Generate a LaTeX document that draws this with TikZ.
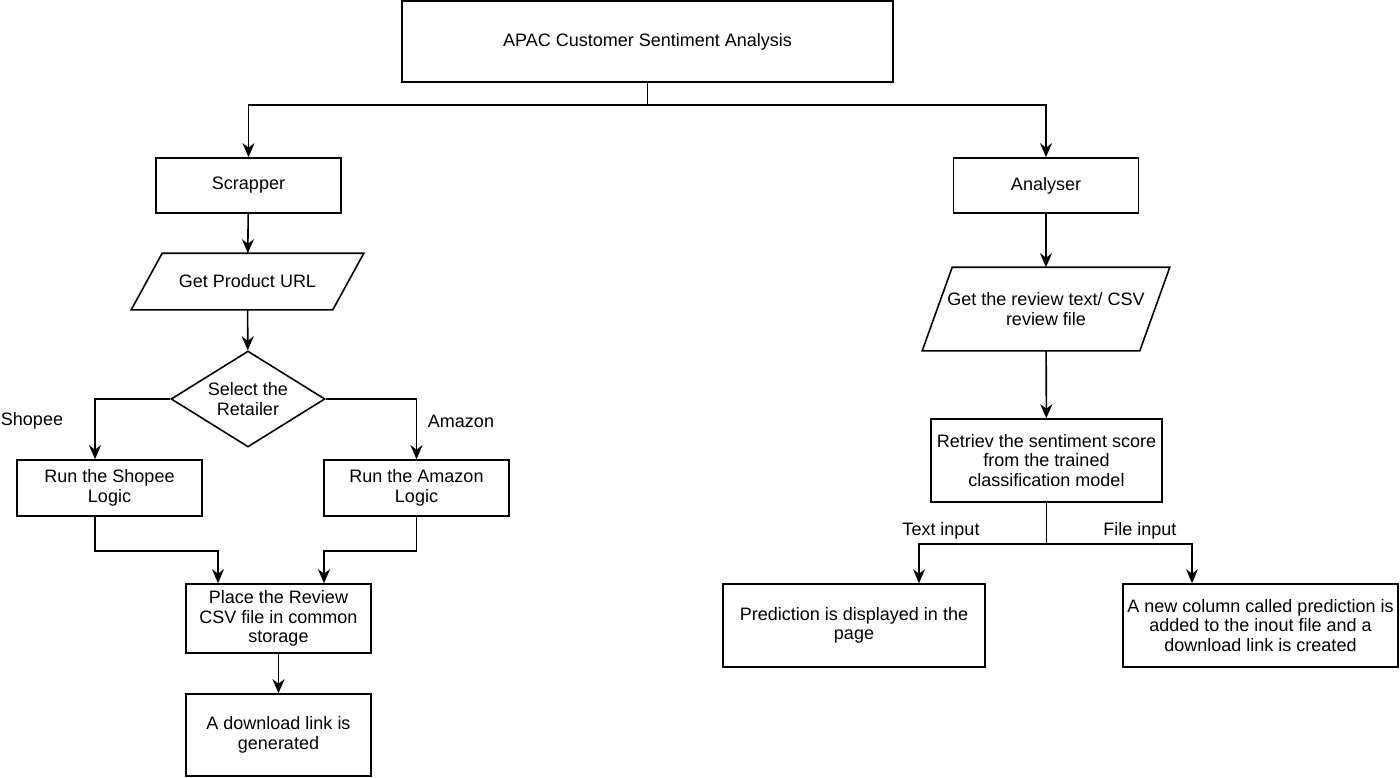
\documentclass[tikz,border=0pt]{standalone}
\usepackage{fontspec}
\setmainfont{Liberation Sans}
\usepackage{tikz}
\usetikzlibrary{shapes.geometric}
\usetikzlibrary{arrows.meta,positioning}

\begin{document}
\begin{tikzpicture}[x=1pt,y=-1pt,->,>={Stealth[length=14pt,width=12pt,inset=4.5pt]},
            line width=1.6pt,
            main node/.style={rectangle,draw,align=center,inner sep=2pt,
            font=\fontsize{18}{19.5}\selectfont,minimum width=185pt,minimum height=55pt},
            io node/.style={rectangle,align=center,inner sep=2pt,font=\fontsize{18}{19.5}\selectfont,
            append after command={\pgfextra{\draw[-] ([xshift=#1]\tikzlastnode.north west) -- (\tikzlastnode.north east)
            -- ([xshift=-#1]\tikzlastnode.south east) -- (\tikzlastnode.south west) -- cycle;}}},
            choice node/.style={diamond,aspect=1.6,draw,align=center,inner sep=0pt,
            font=\fontsize{18}{19.5}\selectfont,minimum width=154pt,minimum height=96pt},
            label node/.style={font=\fontsize{18}{19.5}\selectfont}]

            \useasboundingbox (0,0) rectangle (1400,778);
        
            \node[main node,minimum width=491pt,minimum height=81pt] (Title) at (647.5,41.5) {APAC Customer Sentiment Analysis};
        
            \node[main node] (Scrapper) at (248.5,185.5) {Scrapper};
            \node[main node] (Analyser) at (1046,185.5) {Analyser};
        
            \node[io node=31pt,minimum width=231pt,minimum height=55pt] (ProductURL) at (247.5,281.5) {Get Product URL};
        
            \node[choice node] (Retailer) at (248,399) {Select the\\Retailer};
        
            \node[main node,minimum height=56pt] (ShopeeLogic) at (109.5,488) {Run the Shopee\\Logic};
            \node[main node,minimum height=56pt] (AmazonLogic) at (416.5,488) {Run the Amazon\\Logic};
        
            \node[label node] (ShopeeLabel) at (32,421) {Shopee};
            \node[label node] (AmazonLabel) at (461,421) {Amazon};
        
            \node[main node,minimum height=69pt] (CommonStorage) at (278.5,618.5) {Place the Review\\CSV file in common\\storage};
        
            \node[main node,minimum height=82pt] (DownloadLink) at (278.5,735) {A download link is\\generated};
        
            \node[io node=30pt,minimum width=246pt,minimum height=82pt] (ReviewInput) at (1046,309) {Get the review text/ CSV\\review file};
        
            \node[main node,minimum width=231pt,minimum height=83pt] (SentimentScore) at (1046.5,460.5) {Retriev the sentiment score\\from the trained\\classification model};
        
            \node[main node,minimum width=262pt,minimum height=83pt] (Prediction) at (854,625.5) {Prediction is displayed in the\\page};
            \node[main node,minimum width=275pt,minimum height=83pt] (NewColumn) at (1260.5,625.5) {A new column called prediction is\\added to the inout file and a\\download link is created};
        
            \node[label node] (TextLabel) at (941,531) {Text input};
            \node[label node] (FileLabel) at (1140,531) {File input};
        
            \draw [->] (Title.south) -- ++(0,22.5) -| (Scrapper.north);
            \draw [->] (Title.south) -- ++(0,22.5) -| (Analyser.north);
        
            \draw [->] (Scrapper) -- (ProductURL);
            \draw [->] (ProductURL) -- (Retailer);
        
            \draw [->] (Retailer.west) -| ([xshift=-14.5pt]ShopeeLogic.north);
            \draw [->] (Retailer.east) -| (AmazonLogic.north);
        
            \draw [->] ([xshift=-14.5pt]ShopeeLogic.south) -- ++(0,34) -| ([xshift=-60.5pt]CommonStorage.north);
            \draw [->] (AmazonLogic.south) -- ++(0,34) -| ([xshift=45.5pt]CommonStorage.north);
        
            \draw [->] (CommonStorage) -- (DownloadLink);
        
            \draw [->] (Analyser) -- (ReviewInput);
            \draw [->] (ReviewInput) -- (SentimentScore);
        
            \draw [->] (SentimentScore.south) -- ++(0,41) -| ([xshift=65pt]Prediction.north);
            \draw [->] (SentimentScore.south) -- ++(0,41) -| ([xshift=-68.5pt]NewColumn.north);
          \end{tikzpicture}
\end{document}
